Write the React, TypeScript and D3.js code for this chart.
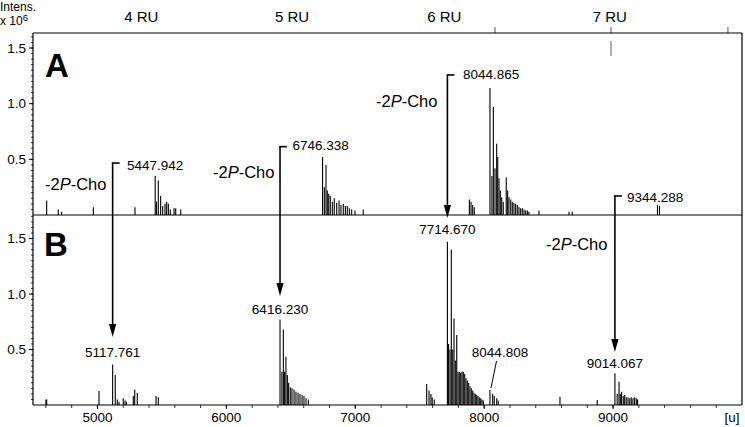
import React from "react";
import * as d3 from "d3";

// ---- data (mass [u], intensity x10^6) ----
const massDomain = [4500, 10000];
const xTicksMajor = [5000, 6000, 7000, 8000, 9000];
const yTicksMajor = [0.5, 1.0, 1.5];
const ruLabels = ["4 RU", "5 RU", "6 RU", "7 RU"];
const ruLabelMass = [5340, 6510, 7690, 8975];
const ruTickMass = [8084, 8984, 9891];

const spectrumA: [number, number][] = [
  [4606, 0.13], [4696, 0.05], [4722, 0.03], [4968, 0.07], [5291, 0.07],
  [5447.9, 0.35], [5458, 0.12], [5472, 0.31], [5490, 0.17], [5506, 0.08], [5524, 0.1],
  [5537, 0.12], [5550, 0.1], [5565, 0.05], [5594, 0.06], [5607, 0.06], [5646, 0.05],
  [6746.3, 0.52], [6760, 0.25], [6773, 0.45], [6783, 0.22], [6794, 0.19], [6806, 0.17],
  [6822, 0.12], [6837, 0.15], [6856, 0.11], [6874, 0.13], [6889, 0.09], [6907, 0.1],
  [6923, 0.08], [6938, 0.08], [6954, 0.06], [6972, 0.05], [6998, 0.04], [7062, 0.05],
  [7885, 0.14], [7898, 0.12], [7911, 0.09], [7923, 0.07],
  [8044.9, 1.14], [8060, 0.35], [8071, 0.97], [8084, 0.42], [8097, 0.64], [8105, 0.52],
  [8115, 0.33], [8125, 0.22], [8136, 0.16], [8148, 0.12], [8171, 0.34], [8182, 0.22],
  [8192, 0.16], [8206, 0.14], [8218, 0.12], [8231, 0.11], [8244, 0.1], [8257, 0.09],
  [8270, 0.07], [8283, 0.06], [8296, 0.06], [8309, 0.05], [8322, 0.04], [8335, 0.04],
  [8347, 0.03], [8425, 0.04], [8658, 0.03], [8683, 0.03],
  [9344.3, 0.09], [9360, 0.08],
];

const spectrumB: [number, number][] = [
  [4600, 0.05], [4606, 0.05], [5012, 0.126],
  [5117.8, 0.366], [5138, 0.27], [5154, 0.05], [5167, 0.03], [5200, 0.06], [5214, 0.04],
  [5224, 0.03], [5278, 0.08], [5289, 0.14], [5309, 0.11], [5454, 0.08], [5472, 0.07],
  [6416.2, 0.77], [6431, 0.3], [6442, 0.68], [6452, 0.3], [6462, 0.435], [6473, 0.27],
  [6483, 0.2], [6496, 0.16], [6509, 0.15], [6525, 0.14], [6540, 0.12], [6556, 0.11],
  [6571, 0.1], [6587, 0.09], [6602, 0.08], [6618, 0.06], [6636, 0.05],
  [7554, 0.19], [7572, 0.13], [7587, 0.1], [7597, 0.07], [7613, 0.05],
  [7714.7, 1.47], [7724, 0.55], [7735, 0.5], [7745, 1.4], [7756, 0.5], [7766, 0.78],
  [7776, 0.4], [7787, 0.63], [7797, 0.3], [7807, 0.3], [7818, 0.29], [7828, 0.3],
  [7838, 0.3], [7849, 0.28], [7859, 0.24], [7869, 0.22], [7880, 0.2], [7890, 0.17],
  [7900, 0.15], [7911, 0.13], [7921, 0.11], [7931, 0.1], [7942, 0.09], [7952, 0.08],
  [7962, 0.07], [7973, 0.06], [7983, 0.05], [7993, 0.04],
  [8044.8, 0.135], [8066, 0.1], [8078, 0.08], [8097, 0.06], [8109, 0.04],
  [8588, 0.075], [8877, 0.045],
  [9014.1, 0.285], [9032, 0.1], [9046, 0.21], [9056, 0.1], [9066, 0.12], [9079, 0.08],
  [9090, 0.09], [9102, 0.07], [9116, 0.07], [9129, 0.06], [9141, 0.07], [9154, 0.06],
  [9167, 0.07], [9180, 0.06], [9190, 0.05],
];

// annotation brackets: label in A -> arrow tip in B
const bracketLabelsA = ["5447.942", "6746.338", "8044.865", "9344.288"];
const bracketMass = [5117.761, 6416.23, 7714.67, 9014.067];
const bracketTopA = [0.467, 0.614, 1.258, 0.171];
const arrowTipB = [0.613, 0.982, 1.685, 0.477];
const targetLabelsB = ["5117.761", "6416.230", "7714.670", "9014.067"];

const FONT = "'Liberation Sans', Arial, Helvetica, sans-serif";

export default function App() {
  const W = 745, H = 427;
  const L = 33, R = 742, TOP = 33, MID = 215, BOT = 405;
  const x = d3.scaleLinear().domain(massDomain).range([L, R]);
  const yA = d3.scaleLinear().domain([0, 1.635]).range([MID, TOP]);
  const yB = d3.scaleLinear().domain([0, 1.712]).range([BOT, MID]);

  const minorX = d3.range(4600, 10000, 200);
  const minorYA = d3.range(0.05, 1.63, 0.05);
  const minorYB = d3.range(0.05, 1.71, 0.05);

  const cho = (xx: number, yy: number, key: string) => (
    <text key={key} x={xx} y={yy} fontSize={16.5} fontFamily={FONT}>
      -2<tspan fontStyle="italic">P</tspan>-Cho
    </text>
  );

  const labelPosA = [
    { x: 127, y: 169.5 },
    { x: 292.5, y: 150 },
    { x: 463, y: 79 },
    { x: 627, y: 201.5 },
  ];
  const labelPosB = [
    { y: 356.5 },
    { y: 313.5 },
    { y: 233.5 },
    { y: 368 },
  ];

  return (
    <svg
      width={W}
      height={H}
      style={{ position: "absolute", left: 0, top: 0, background: "#fff" }}
    >
      <rect x={0} y={0} width={W} height={H} fill="#fff" />
      {/* header */}
      <text x={0} y={10.5} fontSize={12} fontFamily={FONT}>Intens.</text>
      <text x={0} y={24.5} fontSize={12} fontFamily={FONT}>
        x 10<tspan dy={-3.5} fontSize={9.5}>6</tspan>
      </text>
      {ruLabels.map((t, i) => (
        <text key={t} x={x(ruLabelMass[i])} y={21.7} fontSize={15} textAnchor="middle" fontFamily={FONT}>
          {t}
        </text>
      ))}
      {ruTickMass.map((m) => (
        <line key={m} x1={x(m)} x2={x(m)} y1={27} y2={TOP} stroke="#555" strokeWidth={1} />
      ))}
      <line x1={x(8984)} x2={x(8984)} y1={41} y2={56} stroke="#666" strokeWidth={1} />

      {/* frame */}
      <line x1={L} x2={R} y1={TOP} y2={TOP} stroke="#000" strokeWidth={1.2} />
      <line x1={L} x2={R} y1={MID} y2={MID} stroke="#000" strokeWidth={1.2} />
      <line x1={L} x2={R} y1={BOT} y2={BOT} stroke="#000" strokeWidth={1.2} />
      <line x1={L} x2={L} y1={TOP} y2={BOT} stroke="#000" strokeWidth={1.2} />
      <line x1={R} x2={R} y1={TOP} y2={BOT} stroke="#000" strokeWidth={1.2} />

      {/* y axes */}
      {minorYA.map((v, i) => (
        <line key={"ma" + i} x1={L - 2} x2={L} y1={yA(v)} y2={yA(v)} stroke="#000" strokeWidth={0.8} />
      ))}
      {minorYB.map((v, i) => (
        <line key={"mb" + i} x1={L - 2} x2={L} y1={yB(v)} y2={yB(v)} stroke="#000" strokeWidth={0.8} />
      ))}
      {yTicksMajor.map((v) => (
        <g key={"ya" + v}>
          <line x1={L - 4} x2={L} y1={yA(v)} y2={yA(v)} stroke="#000" />
          <text x={26} y={yA(v) + 4.7} fontSize={13.5} textAnchor="end" fontFamily={FONT}>{v.toFixed(1)}</text>
          <line x1={L - 4} x2={L} y1={yB(v)} y2={yB(v)} stroke="#000" />
          <text x={26} y={yB(v) + 4.7} fontSize={13.5} textAnchor="end" fontFamily={FONT}>{v.toFixed(1)}</text>
        </g>
      ))}

      {/* x axis */}
      {minorX.map((m) => (
        <line key={"mx" + m} x1={x(m)} x2={x(m)} y1={BOT} y2={BOT + 3} stroke="#000" strokeWidth={0.8} />
      ))}
      {xTicksMajor.map((m) => (
        <g key={"xt" + m}>
          <line x1={x(m)} x2={x(m)} y1={BOT} y2={BOT + 4} stroke="#000" />
          <text x={x(m)} y={422} fontSize={13.5} textAnchor="middle" fontFamily={FONT}>{m}</text>
        </g>
      ))}
      <text x={732} y={422} fontSize={13.5} textAnchor="middle" fontFamily={FONT}>[u]</text>

      {/* panel letters */}
      <text x={45} y={77} fontSize={33} fontWeight="bold" fontFamily={FONT}>A</text>
      <text x={44} y={256} fontSize={33} fontWeight="bold" fontFamily={FONT}>B</text>

      {/* spectra */}
      {spectrumA.map(([m, v], i) => (
        <line key={"sa" + i} x1={x(m)} x2={x(m)} y1={MID} y2={yA(v)} stroke="#000" strokeWidth={1.1} />
      ))}
      {spectrumB.map(([m, v], i) => (
        <line key={"sb" + i} x1={x(m)} x2={x(m)} y1={BOT} y2={yB(v)} stroke="#000" strokeWidth={1.1} />
      ))}

      {/* brackets & arrows */}
      {bracketMass.map((m, i) => {
        const ax = x(m);
        const top = yA(bracketTopA[i]);
        const tip = yB(arrowTipB[i]);
        return (
          <g key={"br" + i}>
            <line x1={ax} x2={ax} y1={top} y2={tip - 10} stroke="#000" strokeWidth={1.6} />
            <line x1={ax - 0.8} x2={ax + 7} y1={top} y2={top} stroke="#000" strokeWidth={1.6} />
            <polygon
              points={`${ax - 3.6},${tip - 13} ${ax + 3.6},${tip - 13} ${ax},${tip}`}
              fill="#000"
            />
            <text x={labelPosA[i].x} y={labelPosA[i].y} fontSize={13.5} fontFamily={FONT}>
              {bracketLabelsA[i]}
            </text>
            <text x={ax} y={labelPosB[i].y} fontSize={13.5} textAnchor="middle" fontFamily={FONT}>
              {targetLabelsB[i]}
            </text>
          </g>
        );
      })}

      {/* 8044.808 label in B */}
      <text x={500} y={357} fontSize={13.5} textAnchor="middle" fontFamily={FONT}>8044.808</text>
      <line x1={496.5} y1={361} x2={491} y2={388} stroke="#000" strokeWidth={1} />

      {/* -2P-Cho labels */}
      {cho(45, 190, "c1")}
      {cho(213, 178, "c2")}
      {cho(376, 107, "c3")}
      {cho(546, 250, "c4")}
    </svg>
  );
}
